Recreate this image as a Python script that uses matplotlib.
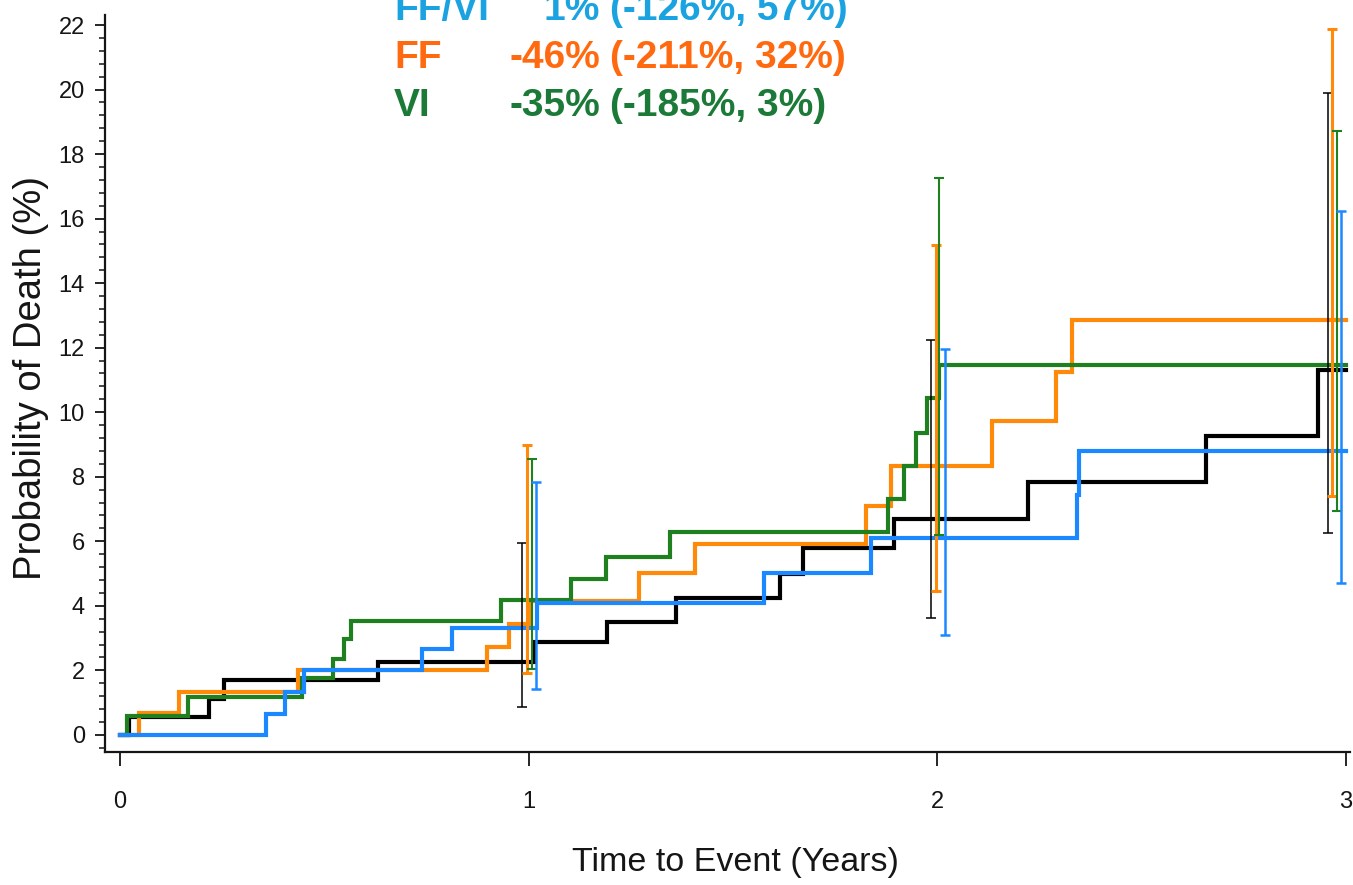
import matplotlib
matplotlib.use("Agg")
import matplotlib.pyplot as plt
from matplotlib.ticker import MultipleLocator

plt.rcParams['font.family'] = ['Liberation Sans', 'DejaVu Sans']

# ---- data ----
black_t = [0, 0.022, 0.217, 0.255, 0.631, 1.012, 1.192, 1.361, 1.616, 1.671, 1.895, 2.223, 2.657, 2.931, 3.0]
black_v = [0, 0.56, 1.12, 1.69, 2.27, 2.89, 3.51, 4.24, 4.98, 5.78, 6.70, 7.85, 9.27, 11.31, 11.31]

orange_t = [0, 0.046, 0.143, 0.436, 0.897, 0.951, 1.005, 1.269, 1.406, 1.825, 1.887, 2.133, 2.290, 2.329, 3.0]
orange_v = [0, 0.67, 1.32, 2.01, 2.72, 3.45, 4.14, 5.01, 5.92, 7.08, 8.32, 9.73, 11.26, 12.86, 12.86]

green_t = [0, 0.016, 0.165, 0.445, 0.520, 0.549, 0.564, 0.932, 1.104, 1.188, 1.345, 1.879, 1.919, 1.949, 1.974, 2.003, 3.0]
green_v = [0, 0.60, 1.16, 1.76, 2.35, 2.97, 3.52, 4.17, 4.82, 5.51, 6.30, 7.30, 8.34, 9.37, 10.43, 11.47, 11.47]

blue_t = [0, 0.358, 0.404, 0.451, 0.739, 0.813, 1.020, 1.577, 1.838, 2.341, 2.347, 3.0]
blue_v = [0, 0.65, 1.32, 2.00, 2.67, 3.32, 4.08, 5.01, 6.09, 7.44, 8.80, 8.80]

# confidence intervals at years 1, 2, 3
black_ci_x = [0.984, 1.984, 2.957]
black_ci_lo = [0.88, 3.62, 6.27]
black_ci_hi = [5.94, 12.24, 19.90]

orange_ci_x = [0.997, 1.998, 2.967]
orange_ci_lo = [1.91, 4.47, 7.41]
orange_ci_hi = [8.99, 15.18, 21.88]

green_ci_x = [1.009, 2.005, 2.979]
green_ci_lo = [2.04, 6.20, 6.95]
green_ci_hi = [8.54, 17.26, 18.70]

blue_ci_x = [1.019, 2.019, 2.988]
blue_ci_lo = [1.42, 3.10, 4.70]
blue_ci_hi = [7.85, 11.96, 16.25]

x_ticks = [0, 1, 2, 3]
y_ticks = [0, 2, 4, 6, 8, 10, 12, 14, 16, 18, 20, 22]

labels = ["FF/VI", "FF", "VI"]
estimates = ["1%", "-46%", "-35%"]
intervals = ["(-126%, 57%)", "(-211%, 32%)", "(-185%, 3%)"]

# ---- styles ----
c_black = "#000000"
c_orange = "#FF8A0A"
c_green = "#1E801E"
c_blue = "#1C88FF"
text_colors = ["#1AA3E0", "#FF6A10", "#1C7A38"]
axis_col = "#151515"

W, H = 1353, 885
fig = plt.figure(figsize=(W / 100, H / 100), dpi=100)
ax = fig.add_axes([105 / W, 1 - 752 / H, (1350 - 105) / W, (752 - 15) / H])

series = [
    (black_t, black_v, c_black, black_ci_x, black_ci_lo, black_ci_hi, 1.1),
    (orange_t, orange_v, c_orange, orange_ci_x, orange_ci_lo, orange_ci_hi, 2.2),
    (green_t, green_v, c_green, green_ci_x, green_ci_lo, green_ci_hi, 1.5),
    (blue_t, blue_v, c_blue, blue_ci_x, blue_ci_lo, blue_ci_hi, 1.8),
]
for i, (t, v, c, cx, lo, hi, elw) in enumerate(series):
    ax.step(t, v, where='post', color=c, lw=3.0, zorder=2 + i, solid_joinstyle='miter')
for i, (t, v, c, cx, lo, hi, elw) in enumerate(series):
    err = [[0] * len(lo), [h - l for h, l in zip(hi, lo)]]
    ax.errorbar(cx, lo, yerr=err, fmt='none', ecolor=c, elinewidth=elw,
                capsize=3.5, capthick=elw, zorder=7 + i)

ax.set_xlim(-0.037, 3.01)
ax.set_ylim(-0.53, 22.31)
ax.set_xticks(x_ticks)
ax.set_yticks(y_ticks)
ax.yaxis.set_minor_locator(MultipleLocator(0.4))
for s in ['top', 'right']:
    ax.spines[s].set_visible(False)
for s in ['left', 'bottom']:
    ax.spines[s].set_linewidth(1.6)
    ax.spines[s].set_color(axis_col)
ax.tick_params(axis='x', which='major', direction='out', length=10, width=1.3,
               pad=18, labelsize=17, colors=axis_col)
ax.tick_params(axis='y', which='major', direction='out', length=7.5, width=1.3,
               pad=7, labelsize=17, colors=axis_col)
ax.tick_params(axis='y', which='minor', direction='out', length=4.5, width=1.1, colors=axis_col)

fig.text(735 / W, 1 - 862 / H, "Time to Event (Years)", ha='center', va='center',
         fontsize=24.5, color=axis_col)
fig.text(31 / W, 1 - 378 / H, "Probability of Death (%)", ha='center', va='center',
         rotation=90, fontsize=27.5, color=axis_col)

baselines = [20, 68, 116]
for lab, est, ci, col, b in zip(labels, estimates, intervals, text_colors, baselines):
    y = 1 - b / H
    fig.text(394 / W, y, lab, ha='left', va='baseline', fontsize=28, fontweight='bold', color=col)
    fig.text(600 / W, y, est, ha='right', va='baseline', fontsize=28, fontweight='bold', color=col)
    fig.text(610 / W, y, ci, ha='left', va='baseline', fontsize=28, fontweight='bold', color=col)

fig.savefig("out.png", dpi=100)
